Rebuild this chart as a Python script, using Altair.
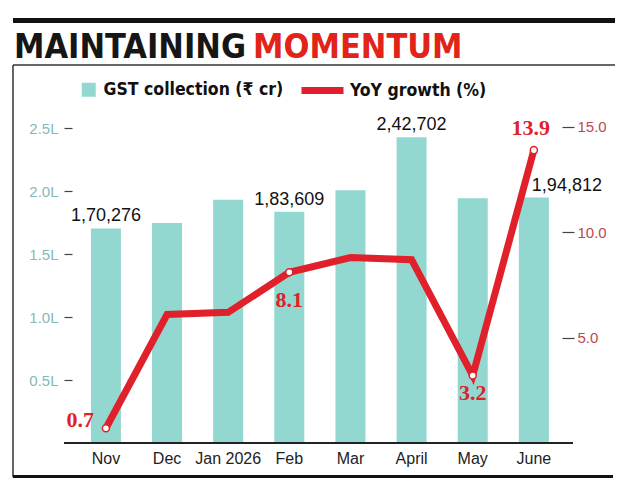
import altair as alt
import pandas as pd

# ---------------- data ----------------
months = ["Nov", "Dec", "Jan 2026", "Feb", "Mar", "April", "May", "June"]
gst_collection = [170276, 174600, 193000, 183609, 200500, 242702, 194200, 194812]
yoy_growth = [0.7, 6.1, 6.2, 8.1, 8.8, 8.7, 3.2, 13.9]
bar_labelled = ["Nov", "Feb", "April", "June"]
growth_labelled = ["Nov", "Feb", "May", "June"]
left_ticks = [50000, 100000, 150000, 200000, 250000]
right_ticks = [5, 10, 15]
title_black = "MAINTAINING"
title_red = "MOMENTUM"
series_bar = "GST collection (₹ cr)"
series_line = "YoY growth (%)"


def indian(n):
    s = str(int(n))
    last3, rest = s[-3:], s[:-3]
    parts = []
    while len(rest) > 2:
        parts.insert(0, rest[-2:])
        rest = rest[:-2]
    if rest:
        parts.insert(0, rest)
    return ",".join(parts + [last3])


df = pd.DataFrame({
    "month": months,
    "gst": gst_collection,
    "growth": yoy_growth,
    "gst_label": [indian(v) for v in gst_collection],
    "growth_label": [f"{g:.1f}" for g in yoy_growth],
    "bar_series": [series_bar] * len(months),
    "line_series": [series_line] * len(months),
})
one = pd.DataFrame({"k": [0]})

# ---------------- style ----------------
TEAL = "#93d8d0"
RED = "#e0202a"
NARROW = "DejaVu Sans Condensed, Liberation Sans, sans-serif"
SANS = "Liberation Sans, Arial, sans-serif"
SERIF = "Liberation Serif, DejaVu Serif, serif"
W, H = 490, 323

xenc = alt.X(
    "month:N", sort=months,
    scale=alt.Scale(paddingInner=0.509, paddingOuter=0.262, align=0.59),
    axis=alt.Axis(title=None, domain=False, ticks=False, labelPadding=7,
                  labelFont=SANS, labelFontSize=16, labelColor="#222", labelAngle=0),
)
ygst = alt.Y(
    "gst:Q", scale=alt.Scale(domain=[0, 256350], nice=False, zero=True),
    axis=alt.Axis(title=None, values=left_ticks,
                  labelExpr="format(datum.value/100000, '.1f') + 'L'",
                  domain=False, grid=False, tickSize=8, tickColor="#444", tickWidth=1.2,
                  labelColor="#86b9b8", labelFont=SANS, labelFontSize=15, labelPadding=6),
)
ygr = alt.Y(
    "growth:Q", scale=alt.Scale(domain=[0, 15.33], nice=False, zero=True),
    axis=alt.Axis(orient="right", title=None, values=right_ticks, format=".1f",
                  domain=False, grid=False, tickSize=12, tickColor="#444", tickWidth=1.2,
                  labelColor="#b94a52", labelFont=SANS, labelFontSize=15, labelPadding=3),
)

base = alt.Chart(df)

bars = base.mark_bar().encode(
    x=xenc, y=ygst,
    color=alt.Color(
        "bar_series:N", scale=alt.Scale(domain=[series_bar], range=[TEAL]),
        legend=alt.Legend(title=None, orient="none", legendX=8, legendY=-39,
                          symbolType="square", symbolSize=196, symbolStrokeWidth=0,
                          symbolOpacity=1, labelLimit=0,
                          labelFont=NARROW, labelFontSize=17.5, labelFontWeight="bold",
                          labelColor="#111", labelOffset=6, padding=0),
    ),
)
bar_text_c = base.transform_filter(
    alt.FieldOneOfPredicate(field="month", oneOf=["Nov", "Feb", "April"])
).mark_text(dy=-7, baseline="alphabetic", font=SANS, fontSize=18, color="#111").encode(
    x=xenc, y=ygst, text="gst_label:N")
bar_text_r = base.transform_filter(
    alt.FieldOneOfPredicate(field="month", oneOf=["June"])
).mark_text(dy=-7, dx=-2, align="left", baseline="alphabetic", font=SANS, fontSize=18,
            color="#111").encode(x=xenc, y=ygst, text="gst_label:N")

left = alt.layer(bars, bar_text_c, bar_text_r)

line = base.mark_line(strokeWidth=7).encode(
    x=xenc, y=ygr,
    stroke=alt.Stroke(
        "line_series:N", scale=alt.Scale(domain=[series_line], range=[RED]),
        legend=alt.Legend(title=None, orient="none", legendX=226, legendY=-54,
                          symbolType="stroke", symbolSize=1764, symbolStrokeWidth=7,
                          labelLimit=0,
                          labelFont=NARROW, labelFontSize=17.5, labelFontWeight="bold",
                          labelColor="#111", labelOffset=3, padding=0),
    ),
)
pts = base.transform_filter(
    alt.FieldOneOfPredicate(field="month", oneOf=growth_labelled)
).mark_circle(fill="white", stroke=RED, strokeWidth=1.5, size=50, opacity=1).encode(
    x=xenc, y=ygr)

label_pos = {"Nov": (-12, -8, "right"), "Feb": (0, 28, "center"),
             "May": (0, 17, "center"), "June": (-3, -22, "center")}
gr_texts = []
for m, (dx, dy, al) in label_pos.items():
    gr_texts.append(
        base.transform_filter(alt.datum.month == m).mark_text(
            dx=dx, dy=dy, align=al, baseline="middle", font=SERIF, fontSize=22,
            fontWeight="bold", color=RED).encode(x=xenc, y=ygr, text="growth_label:N"))

right = alt.layer(line, pts, *gr_texts)

# ---------------- decoration ----------------
dec = alt.Chart(one)
top_bar = dec.mark_rule(strokeWidth=5, color="#111").encode(
    x=alt.value(-59), x2=alt.value(543), y=alt.value(-99.5))
top_line = dec.mark_rule(strokeWidth=1.5, color="#333").encode(
    x=alt.value(-59), x2=alt.value(543), y=alt.value(-55))
left_line = dec.mark_rule(strokeWidth=1.5, color="#333").encode(
    x=alt.value(-59), y=alt.value(-55), y2=alt.value(357))
bottom_line = dec.mark_rule(strokeWidth=3, color="#111").encode(
    x=alt.value(-59), x2=alt.value(541), y=alt.value(356.5))
baseline = dec.mark_rule(strokeWidth=2, color="#222").encode(
    x=alt.value(-8), x2=alt.value(501), y=alt.value(H))
t1 = dec.mark_text(align="left", baseline="alphabetic", font=NARROW, fontSize=34,
                   fontWeight="bold", color="#161616").encode(
    x=alt.value(-58), y=alt.value(-62), text=alt.value(title_black))
t2 = dec.mark_text(align="left", baseline="alphabetic", font=NARROW, fontSize=34,
                   fontWeight="bold", color="#e2231a").encode(
    x=alt.value(181), y=alt.value(-62), text=alt.value(title_red))

chart = alt.layer(left, right, top_bar, top_line, left_line, bottom_line, baseline, t1, t2).resolve_scale(
    y="independent"
).properties(
    width=W, height=H,
    autosize=alt.AutoSizeParams(type="none"),
    padding={"left": 72, "top": 120, "right": 68, "bottom": 46},
    background="white",
).configure_view(stroke=None)

chart.save("out.html", embed_options={"renderer": "svg", "actions": False})
